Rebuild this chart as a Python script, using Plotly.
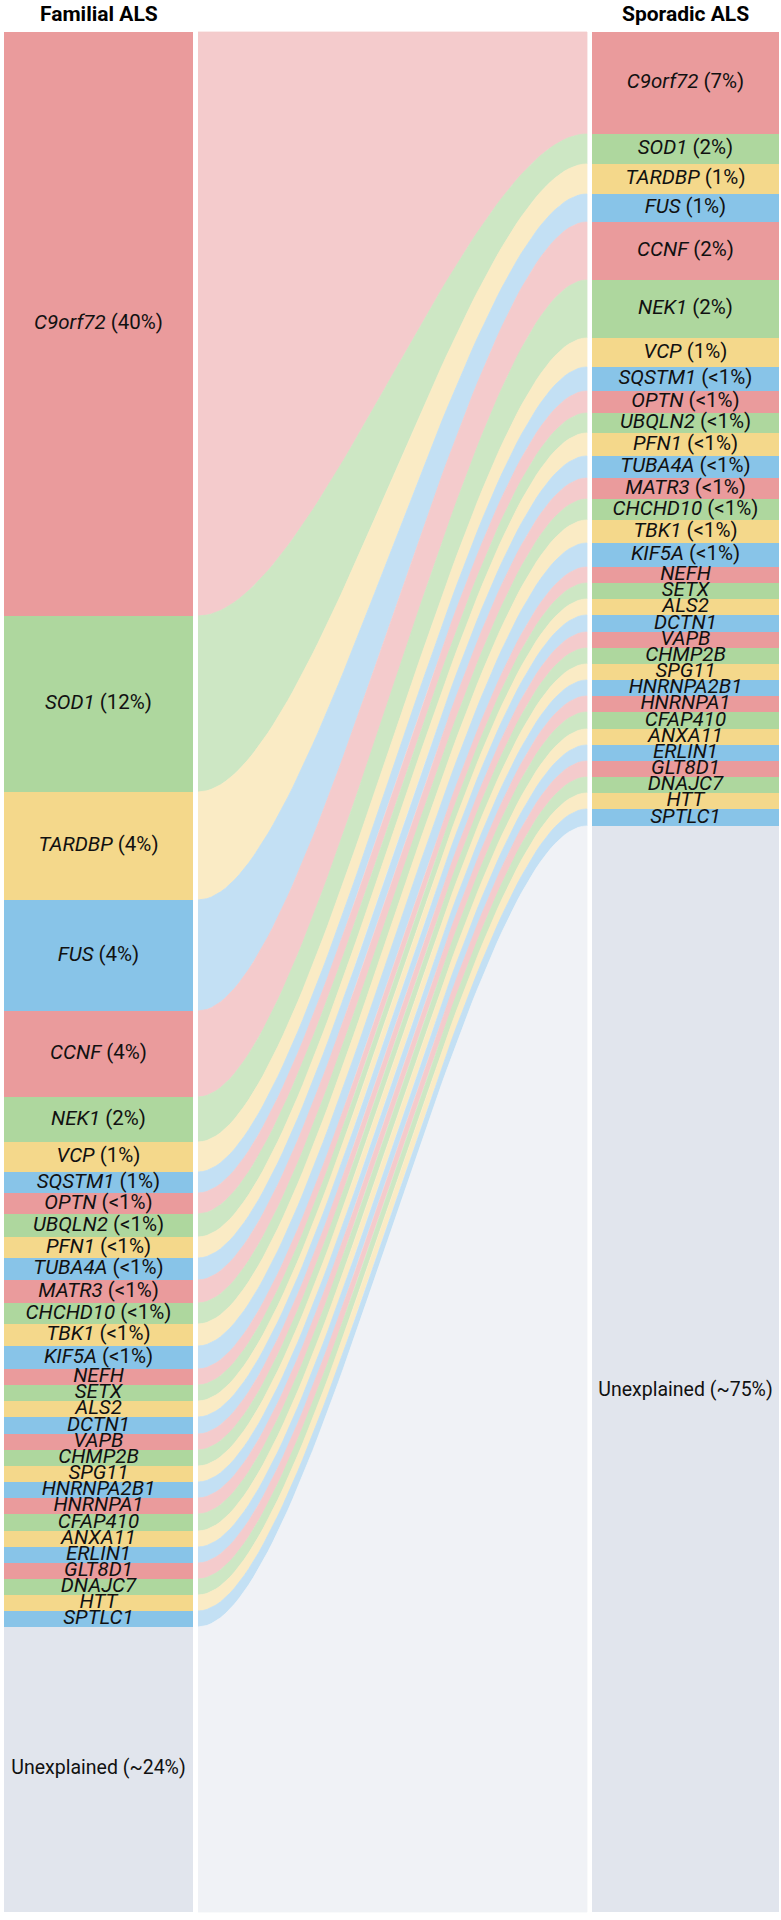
import numpy as np
import plotly.graph_objects as go

# ---------------- data ----------------
genes = ["C9orf72", "SOD1", "TARDBP", "FUS", "CCNF", "NEK1", "VCP", "SQSTM1",
         "OPTN", "UBQLN2", "PFN1", "TUBA4A", "MATR3", "CHCHD10", "TBK1", "KIF5A",
         "NEFH", "SETX", "ALS2", "DCTN1", "VAPB", "CHMP2B", "SPG11", "HNRNPA2B1",
         "HNRNPA1", "CFAP410", "ANXA11", "ERLIN1", "GLT8D1", "DNAJC7", "HTT", "SPTLC1",
         "Unexplained"]

familial_pct = ["40%", "12%", "4%", "4%", "4%", "2%", "1%", "1%",
                "<1%", "<1%", "<1%", "<1%", "<1%", "<1%", "<1%", "<1%",
                "", "", "", "", "", "", "", "", "", "", "", "", "", "", "", "",
                "~24%"]
sporadic_pct = ["7%", "2%", "1%", "1%", "2%", "2%", "1%", "<1%",
                "<1%", "<1%", "<1%", "<1%", "<1%", "<1%", "<1%", "<1%",
                "", "", "", "", "", "", "", "", "", "", "", "", "", "", "", "",
                "~75%"]

# segment heights (drawing units)
familial_size = [584, 176, 108, 111, 86, 45, 30, 21,
                 21, 23, 21, 22, 23, 21, 22, 23,
                 16, 16, 16, 17, 16, 16, 16, 16, 16, 17, 16, 16, 16, 16, 16, 16,
                 285]
sporadic_size = [102, 30, 30, 28, 58, 58, 29, 24,
                 22, 20, 23, 22, 21, 21, 23, 24,
                 16, 16, 16, 17, 16, 16, 16, 16, 16, 17, 16, 16, 16, 16, 16, 17,
                 1086]

column_titles = ["Familial ALS", "Sporadic ALS"]

seg_colors = ["#ea9b9c", "#aed79e", "#f4d88b", "#88c4e8"]
flow_colors = ["#f4cbcc", "#cde7c4", "#faebc5", "#c3e0f4"]
unexp_seg_color = "#e1e5ed"
unexp_flow_color = "#f0f2f6"

# ---------------- layout geometry ----------------
W, H = 781, 1920
L_X0, L_X1 = 4, 193
R_X0, R_X1 = 592, 779
F_X0, F_X1 = 198, 587
TOP_PAD, BOT_PAD = 32, 8
CURV = 0.3
LABEL_FONT = 20.5
UNEXP_FONT = 19.5

n = len(genes)
fam = np.array(familial_size, dtype=float)
spo = np.array(sporadic_size, dtype=float)
fam_base = np.concatenate([[0], np.cumsum(fam)[:-1]])
spo_base = np.concatenate([[0], np.cumsum(spo)[:-1]])
total = max(fam.sum(), spo.sum())

seg_col = [unexp_seg_color if g == "Unexplained" else seg_colors[i % 4] for i, g in enumerate(genes)]
flw_col = [unexp_flow_color if g == "Unexplained" else flow_colors[i % 4] for i, g in enumerate(genes)]

fig = go.Figure()

# ---------------- flows ----------------
t = np.linspace(0, 1, 80)
dx = F_X1 - F_X0
bx = ((1 - t) ** 3 * F_X0 + 3 * (1 - t) ** 2 * t * (F_X0 + CURV * dx)
      + 3 * (1 - t) * t ** 2 * (F_X1 - CURV * dx) + t ** 3 * F_X1)
ease = 3 * t ** 2 - 2 * t ** 3

for i in range(n):
    ya_top, ya_bot = fam_base[i], fam_base[i] + fam[i]
    yb_top, yb_bot = spo_base[i], spo_base[i] + spo[i]
    top = ya_top + (yb_top - ya_top) * ease
    bot = ya_bot + (yb_bot - ya_bot) * ease
    xs = np.concatenate([bx, bx[::-1]])
    ys = np.concatenate([top, bot[::-1]])
    fig.add_trace(go.Scatter(x=xs, y=ys, mode="lines", fill="toself",
                             fillcolor=flw_col[i],
                             line=dict(color=flw_col[i], width=0.8),
                             hoverinfo="skip", showlegend=False))

# ---------------- columns ----------------
for x0, x1, size, base in [(L_X0, L_X1, fam, fam_base), (R_X0, R_X1, spo, spo_base)]:
    fig.add_trace(go.Bar(x=[(x0 + x1) / 2] * n, y=size, base=base, width=x1 - x0,
                         marker=dict(color=seg_col, line=dict(width=0)),
                         hoverinfo="skip", showlegend=False))


def make_label(g, p):
    if g == "Unexplained":
        return f"{g} ({p})"
    txt = f"<i>{g}</i>"
    if p:
        txt += " (" + p.replace("<", "&lt;") + ")"
    return txt


for side, (x0, x1, size, base, pct) in enumerate([(L_X0, L_X1, fam, fam_base, familial_pct),
                                                  (R_X0, R_X1, spo, spo_base, sporadic_pct)]):
    ys = base + size / 2
    if side == 1:
        # the large "Unexplained" label on the right sits a little below the segment centre
        ys = ys.copy()
        ys[-1] += 22
    sizes = [UNEXP_FONT if g == "Unexplained" else LABEL_FONT for g in genes]
    fig.add_trace(go.Scatter(x=[(x0 + x1) / 2] * n, y=ys, mode="text",
                             text=[make_label(g, p) for g, p in zip(genes, pct)],
                             textposition="middle center", cliponaxis=False,
                             textfont=dict(family="Roboto", size=sizes, color="#111111"),
                             hoverinfo="skip", showlegend=False))

# ---------------- titles ----------------
for (x0, x1), title in zip([(L_X0, L_X1), (R_X0, R_X1)], column_titles):
    fig.add_annotation(x=(x0 + x1) / 2, y=-TOP_PAD + 14, text=f"<b>{title}</b>",
                       showarrow=False, xanchor="center", yanchor="middle",
                       font=dict(family="Roboto", size=21, color="#000000", weight=900))

fig.update_layout(
    width=W, height=H, margin=dict(l=0, r=0, t=0, b=0),
    paper_bgcolor="white", plot_bgcolor="white",
    barmode="overlay", bargap=0,
    xaxis=dict(range=[0, W], visible=False, fixedrange=True),
    yaxis=dict(range=[total + BOT_PAD, -TOP_PAD], visible=False, fixedrange=True),
)

# remove the browser's default 8px page margin so the figure fills the window exactly
fig.write_html("out.html", config={"displayModeBar": False},
               post_script="document.body.style.margin='0px';")
